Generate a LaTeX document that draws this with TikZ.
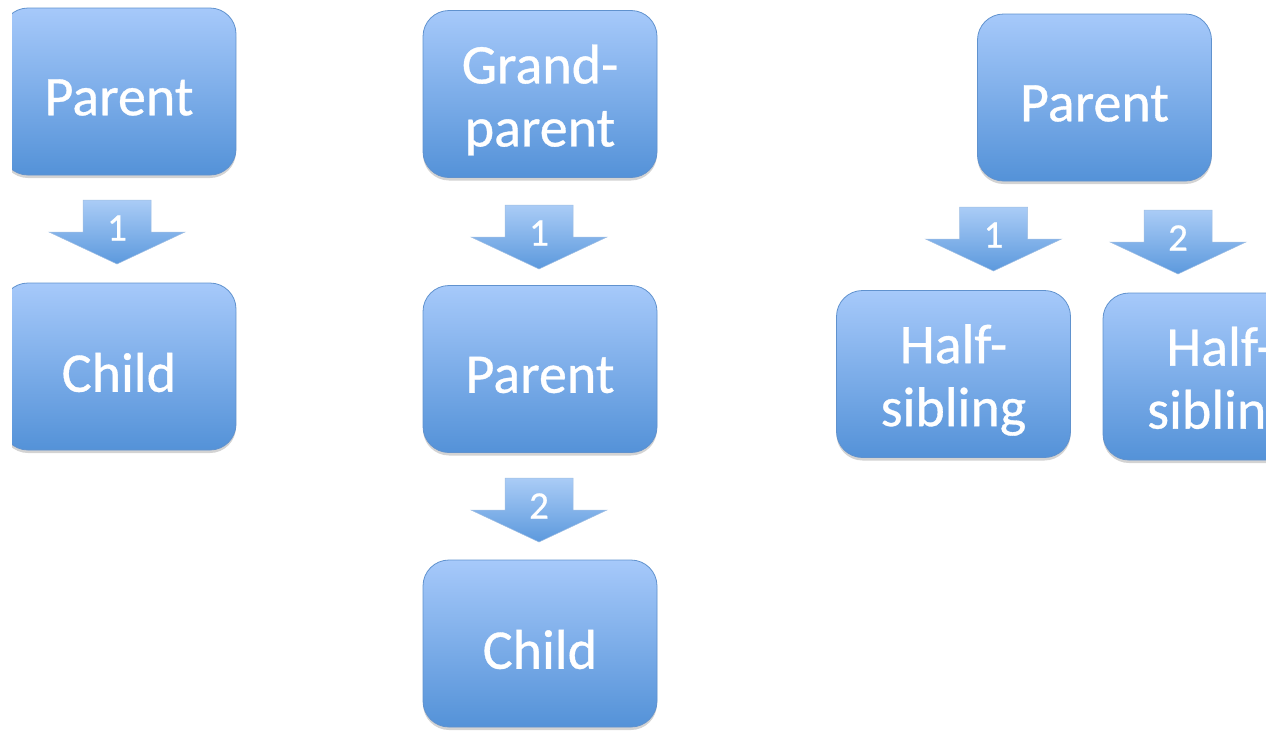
\documentclass[tikz,border=0pt]{standalone}
\usepackage{fontspec}
\setmainfont{Carlito}[FakeBold=0.6]
\usetikzlibrary{shadows}
\definecolor{boxtop}{RGB}{166,201,250}
\definecolor{boxbot}{RGB}{84,146,216}
\definecolor{boxline}{RGB}{96,146,206}
\definecolor{arrtop}{RGB}{170,204,246}
\definecolor{arrbot}{RGB}{92,153,221}
\tikzset{
  famnode/.style={rectangle, rounded corners=26pt, minimum width=234pt, minimum height=167pt,
    top color=boxtop, bottom color=boxbot, draw=boxline, line width=0.8pt,
    drop shadow={shadow xshift=0pt, shadow yshift=-3pt, opacity=0.35},
    label={[famtext]center:{#1}}},
  famtext/.style={text=white, align=center, font=\fontsize{56}{63}\selectfont, yshift=-6pt},
  blockarr/.style={top color=arrtop, bottom color=arrbot, draw=boxline!60, line width=0.5pt},
  arrlabel/.style={text=white, font=\fontsize{39}{40}\selectfont, inner sep=0pt}
}
\newcommand\downblock[4]{%
  \begin{scope}[shift={(#1,#2)}]
    \path[blockarr] (-34,0) -- (34,0) -- (34,32) -- (68,32) -- (0,64) -- (-68,32) -- (-34,32) -- cycle;
    \node[arrlabel] (#4) at (0,28) {#3};
  \end{scope}}
\begin{document}
\begin{tikzpicture}[x=1pt,y=-1pt]
\useasboundingbox (0,0) rectangle (1266,731);
\clip (12,0) rectangle (1266,731);
% left column
\node[famnode={Parent}] (lp) at (119,91.5) {};
\node[famnode={Child}] (lc) at (119,366.5) {};
\downblock{117}{200}{1}{la}
% middle column
\node[famnode={Grand-\\parent}] (mg) at (540,94) {};
\node[famnode={Parent}] (mp) at (540,369) {};
\node[famnode={Child}] (mc) at (540,643.5) {};
\downblock{539}{205}{1}{ma}
\downblock{539}{478}{2}{mb}
% right group
\node[famnode={Parent}] (rp) at (1094.5,97.5) {};
\node[famnode={Half-\\sibling}] (h1) at (953.5,374) {};
\node[famnode={Half-\\sibling}] (h2) at (1220,376.5) {};
\downblock{993.5}{207}{1}{ra}
\downblock{1178}{210}{2}{rb}
\end{tikzpicture}
\end{document}
